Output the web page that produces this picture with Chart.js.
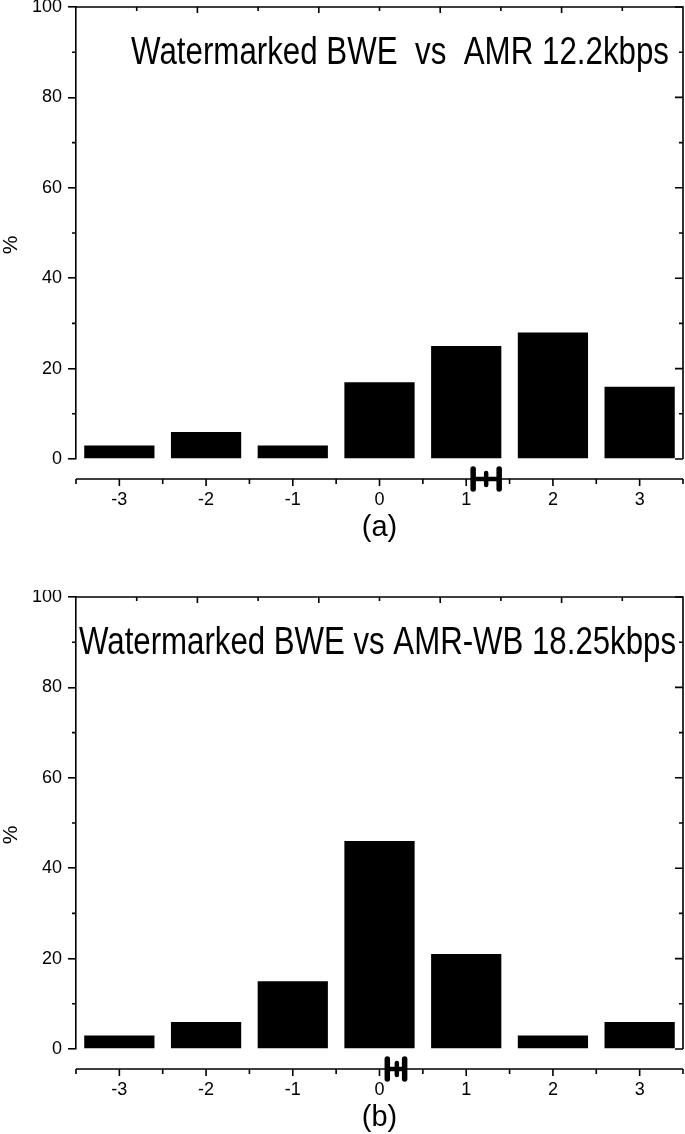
<!DOCTYPE html>
<html>
<head>
<meta charset="utf-8">
<script src="https://cdn.jsdelivr.net/npm/chart.js@4/dist/chart.umd.min.js"></script>
<style>
  body { margin: 0; background: #fff; }
  .panel { position: absolute; left: 0; width: 685px; height: 544px; }
</style>
</head>
<body>
<div class="panel" style="top:0"><canvas id="chartA" width="685" height="544"></canvas></div>
<div class="panel" style="top:590px"><canvas id="chartB" width="685" height="544"></canvas></div>
<script>
const categories = ['-3', '-2', '-1', '0', '1', '2', '3'];
const valuesA = [3, 6, 3, 17, 25, 28, 16];
const valuesB = [3, 6, 15, 46, 21, 3, 6];
const yTicks = [0, 20, 40, 60, 80, 100];
// mean score with confidence interval: low, mean, high
const intervalA = [1.08, 1.23, 1.38];
const intervalB = [0.09, 0.20, 0.29];
const titleA = 'Watermarked BWE  vs  AMR 12.2kbps';
const titleB = 'Watermarked BWE vs AMR-WB 18.25kbps';
const captionA = '(a)';
const captionB = '(b)';
const yLabel = '%';

const FONT = '"Liberation Sans", Arial, sans-serif';
const LW = 1.6;

// frame, minor ticks, shifted x axis line, interval bar and texts
const extras = {
    id: 'extras',
    afterDraw(chart, args, opts) {
        const { ctx, chartArea: a, scales: { x, y } } = chart;
        ctx.save();
        ctx.strokeStyle = '#000';
        ctx.fillStyle = '#000';
        ctx.lineWidth = LW;

        // top and right border
        ctx.beginPath();
        ctx.moveTo(a.left, a.top);
        ctx.lineTo(a.right, a.top);
        ctx.lineTo(a.right, a.bottom);
        ctx.stroke();

        // top ticks (10 divisions)
        ctx.beginPath();
        for (let i = 1; i < 10; i++) {
            const px = a.left + (a.right - a.left) * i / 10;
            ctx.moveTo(px, a.top);
            ctx.lineTo(px, a.top + (i % 2 === 0 ? 6 : 4));
        }
        // right ticks, left minor ticks
        for (let v = 0; v <= 100; v += 10) {
            const py = y.getPixelForValue(v);
            const major = v % 20 === 0;
            ctx.moveTo(a.right - (major ? 8 : 4), py);
            ctx.lineTo(a.right, py);
            if (!major) {
                ctx.moveTo(a.left - 4, py);
                ctx.lineTo(a.left, py);
            }
        }
        ctx.stroke();

        // x axis line drawn below the plot
        const axisY = a.bottom + 20;
        ctx.beginPath();
        ctx.moveTo(a.left, axisY);
        ctx.lineTo(a.right, axisY);
        for (let k = -0.5; k <= categories.length - 0.5; k += 0.5) {
            const px = x.getPixelForValue(k);
            ctx.moveTo(px, axisY);
            ctx.lineTo(px, axisY + (Number.isInteger(k) ? 7 : 5));
        }
        ctx.stroke();

        // confidence interval on the axis
        const zero = categories.indexOf('0');
        const [lo, mid, hi] = opts.interval.map(v => x.getPixelForValue(zero + v));
        ctx.lineCap = 'round';
        ctx.lineWidth = 4.5;
        ctx.beginPath();
        ctx.moveTo(lo, axisY);
        ctx.lineTo(hi, axisY);
        ctx.moveTo(mid, axisY - 6);
        ctx.lineTo(mid, axisY + 6);
        ctx.stroke();
        ctx.lineWidth = 5.5;
        ctx.beginPath();
        ctx.moveTo(lo, axisY - 10);
        ctx.lineTo(lo, axisY + 10);
        ctx.moveTo(hi, axisY - 10);
        ctx.lineTo(hi, axisY + 10);
        ctx.stroke();

        // title, condensed to its width in the figure
        ctx.font = '38px ' + FONT;
        ctx.textBaseline = 'alphabetic';
        ctx.textAlign = 'left';
        const w = ctx.measureText(opts.title).width;
        ctx.save();
        ctx.translate(opts.titleX, 64);
        ctx.scale(opts.titleW / w, 1);
        ctx.fillText(opts.title, 0, 0);
        ctx.restore();

        // caption
        ctx.font = '29px ' + FONT;
        ctx.textAlign = 'center';
        ctx.textBaseline = 'middle';
        ctx.fillText(opts.caption, (a.left + a.right) / 2, axisY + 49);

        // y axis label
        ctx.font = '21px ' + FONT;
        ctx.translate(11, 245);
        ctx.rotate(-Math.PI / 2);
        ctx.fillText(yLabel, 0, 0);
        ctx.restore();
    }
};

function makeChart(id, values, extraOpts) {
    return new Chart(document.getElementById(id), {
        type: 'bar',
        data: {
            labels: categories,
            datasets: [{
                data: values,
                backgroundColor: '#000',
                borderWidth: 0,
                barPercentage: 0.81,
                categoryPercentage: 1,
            }],
        },
        options: {
            responsive: false,
            animation: false,
            devicePixelRatio: 1,
            layout: { padding: { top: 7, right: 2, left: 0, bottom: 0 } },
            plugins: {
                legend: { display: false },
                tooltip: { enabled: false },
                extras: extraOpts,
            },
            scales: {
                x: {
                    offset: true,
                    grid: { display: false, drawTicks: false },
                    border: { display: false },
                    ticks: { color: '#000', font: { family: FONT, size: 18 }, padding: 30, maxRotation: 0 },
                    afterFit: s => { s.height = 85; s.paddingLeft = 0; s.paddingRight = 0; },
                },
                y: {
                    min: 0,
                    max: 100,
                    afterBuildTicks: s => { s.ticks = yTicks.map(v => ({ value: v })); },
                    afterFit: s => { s.width = 76; s.paddingTop = 0; s.paddingBottom = 0; },
                    grid: { drawOnChartArea: false, drawTicks: true, tickLength: 8, color: '#000', lineWidth: LW },
                    border: { display: true, color: '#000', width: LW },
                    ticks: { color: '#000', font: { family: FONT, size: 18 }, padding: 6 },
                },
            },
        },
        plugins: [extras],
    });
}

makeChart('chartA', valuesA, { title: titleA, titleX: 131, titleW: 538, caption: captionA, interval: intervalA });
makeChart('chartB', valuesB, { title: titleB, titleX: 79, titleW: 597, caption: captionB, interval: intervalB });
</script>
</body>
</html>
